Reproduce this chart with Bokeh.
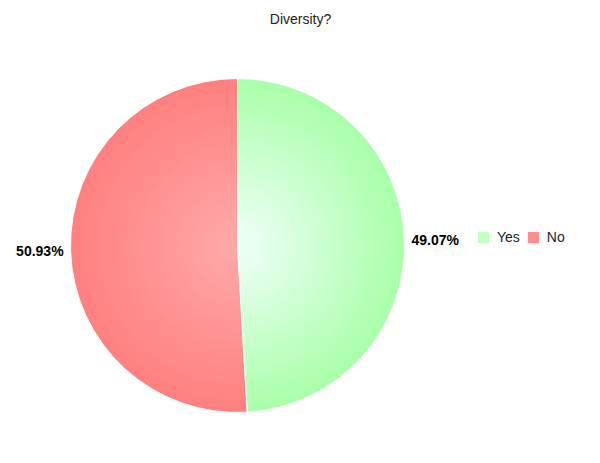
import numpy as np
from bokeh.plotting import figure
from bokeh.models import Range1d, Legend, LegendItem, Label, ColumnDataSource
from bokeh.embed import file_html
from bokeh.resources import INLINE
from bokeh.core.properties import value, field

# ---- data ----
title_text = "Diversity?"
categories = ["Yes", "No"]
percents = [49.07, 50.93]
edge_colors = ["#aaffaa", "#ff8080"]
center_colors = ["#f0fffa", "#ffaaaa"]

# ---- layout ----
W, H = 584, 447
FONT = "Liberation Sans"
p = figure(width=W, height=H, output_backend="svg", toolbar_location=None,
           x_range=Range1d(0, W), y_range=Range1d(463 - H, 463),
           min_border=0, outline_line_color=None,
           x_axis_location=None, y_axis_location=None,
           background_fill_color="white", border_fill_color="white")
p.grid.visible = False

cx, cy, R = 237.0, 463 - 245.0, 167.0

vals = np.array(percents, dtype=float)
fr = vals / vals.sum()
starts = np.pi / 2 - 2 * np.pi * np.concatenate([[0], np.cumsum(fr)[:-1]])
ends = starts - 2 * np.pi * fr


def hex2rgb(h):
    h = h.lstrip("#")
    return np.array([int(h[i:i + 2], 16) for i in (0, 2, 4)], dtype=float)


def mix(c0, c1, t):
    a, b = hex2rgb(c0), hex2rgb(c1)
    c = np.round(a + (b - a) * t).astype(int)
    return "#%02x%02x%02x" % tuple(c)


N = 60
ring_renderers = []
for k in range(N):
    t = 1 - k / N
    r = R * t
    src = ColumnDataSource(dict(
        x=[cx] * len(categories), y=[cy] * len(categories),
        start=list(starts), end=list(ends),
        color=[mix(center_colors[i], edge_colors[i], t) for i in range(len(categories))],
    ))
    rr = p.wedge(x="x", y="y", radius=r, start_angle="start", end_angle="end",
                 direction="clock", fill_color="color", line_color=None, source=src)
    ring_renderers.append(rr)

# white slice borders
border_src = ColumnDataSource(dict(x=[cx] * len(categories), y=[cy] * len(categories),
                                   start=list(starts), end=list(ends)))
p.wedge(x="x", y="y", radius=R, start_angle="start", end_angle="end",
        direction="clock", fill_color=None, line_color="white", line_width=1,
        source=border_src)

# data labels
mids = (starts + ends) / 2
lab_src = ColumnDataSource(dict(
    x=list(cx + (R + 7) * np.cos(mids)),
    y=list(cy + (R + 9) * np.sin(mids)),
    text=["%.2f%%" % v for v in percents],
    align=["left" if np.cos(m) > 0 else "right" for m in mids],
))
p.text(x="x", y="y", text="text", source=lab_src, text_align=field("align"),
       text_baseline="middle", text_font=value(FONT), text_font_style="bold",
       text_font_size="14px", text_color="#000000")

# title
p.add_layout(Label(x=300, y=463 - 18, text=title_text, text_align="center",
                   text_baseline="middle", text_font=FONT, text_font_size="14px",
                   text_color="#222222"))

# legend
mid_ring = ring_renderers[N // 3]
legend = Legend(items=[LegendItem(label=c, renderers=[mid_ring], index=i)
                       for i, c in enumerate(categories)],
                orientation="horizontal", location=(476, 202),
                glyph_width=14, glyph_height=14, label_standoff=7, spacing=6,
                padding=0, margin=0, border_line_color=None,
                background_fill_alpha=0, label_text_font=FONT,
                label_text_font_size="14px", label_text_color="#222222")
p.add_layout(legend)

open("out.html", "w").write(file_html(p, INLINE))
